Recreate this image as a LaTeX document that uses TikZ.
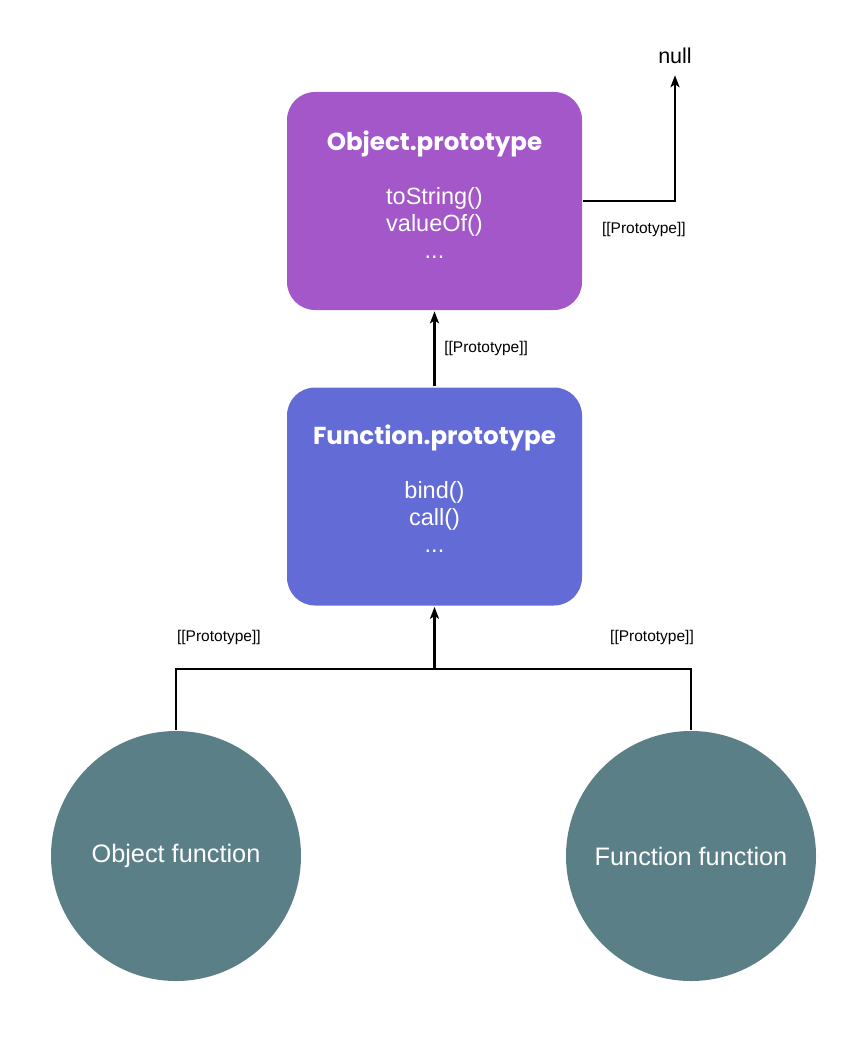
\documentclass[tikz,border=0pt]{standalone}
\usepackage{fontspec}
\setmainfont{Liberation Sans}
\newfontfamily\titlefont{Poppins}
\usetikzlibrary{arrows.meta,positioning}
\definecolor{objpurple}{HTML}{A357C9}
\definecolor{funcblue}{HTML}{636BD7}
\definecolor{fungreen}{HTML}{5B7F87}
\tikzset{
	->, % every connector points up the chain
	>={Stealth[length=12pt,width=9pt,inset=3pt]},
	protobox/.style={draw=none, rounded corners=28pt, minimum width=295pt, minimum height=218pt},
	boxtext/.style={text=white, align=center, inner sep=0pt, anchor=base, font=\fontsize{23.5}{27}\selectfont},
	funcnode/.style={circle, fill=fungreen, minimum size=250pt, inner sep=0pt, text=white, font=\fontsize{25.3}{30}\selectfont},
	protolabel/.style={inner sep=0pt, text=black, font=\fontsize{15.5}{18}\selectfont},
}
\newcommand{\ptitle}[1]{{\titlefont\bfseries\fontsize{24.5}{27}\selectfont #1}}

\begin{document}
\begin{tikzpicture}[x=1pt, y=-1pt, line width=2.7pt]
      \useasboundingbox (0,0) rectangle (862,1040);

      \node[protobox, fill=objpurple] (objproto) at (434.5,201) {};
      \node[protobox, fill=funcblue] (funcproto) at (434.5,496.5) {};
      \node[funcnode] (objfunc) at (176,856) {Object function};
      \node[funcnode] (funcfunc) at (691,856) {Function function};
      \node[inner sep=0pt, font=\fontsize{21.5}{25}\selectfont] (null) at (675,56) {null};
      \coordinate (join) at (434.5,669);

      % last line of the text sits on the base anchor
      \node[boxtext] (objtext) at ([yshift=-168pt]objproto.north) {\ptitle{Object.prototype}\\[27pt] toString()\\ valueOf()\\ ...};
      \node[boxtext] (functext) at ([yshift=-166pt]funcproto.north) {\ptitle{Function.prototype}\\[27pt] bind()\\ call()\\ ...};

      \draw (funcproto.north) -- node[protolabel, anchor=west, xshift=8.5pt] {[[Prototype]]} (objproto.south);
      \draw[shorten >=10pt] (objproto.east) -| node[protolabel, pos=0.33, yshift=-28pt] {[[Prototype]]} (null.south);

      \draw[-] (objfunc.north) |- node[protolabel, pos=0.583, yshift=32pt] {[[Prototype]]} (join);
      \draw[-] (funcfunc.north) |- node[protolabel, pos=0.576, yshift=32pt] {[[Prototype]]} (join);
      \draw (join) -- (funcproto.south);
\end{tikzpicture}
\end{document}
